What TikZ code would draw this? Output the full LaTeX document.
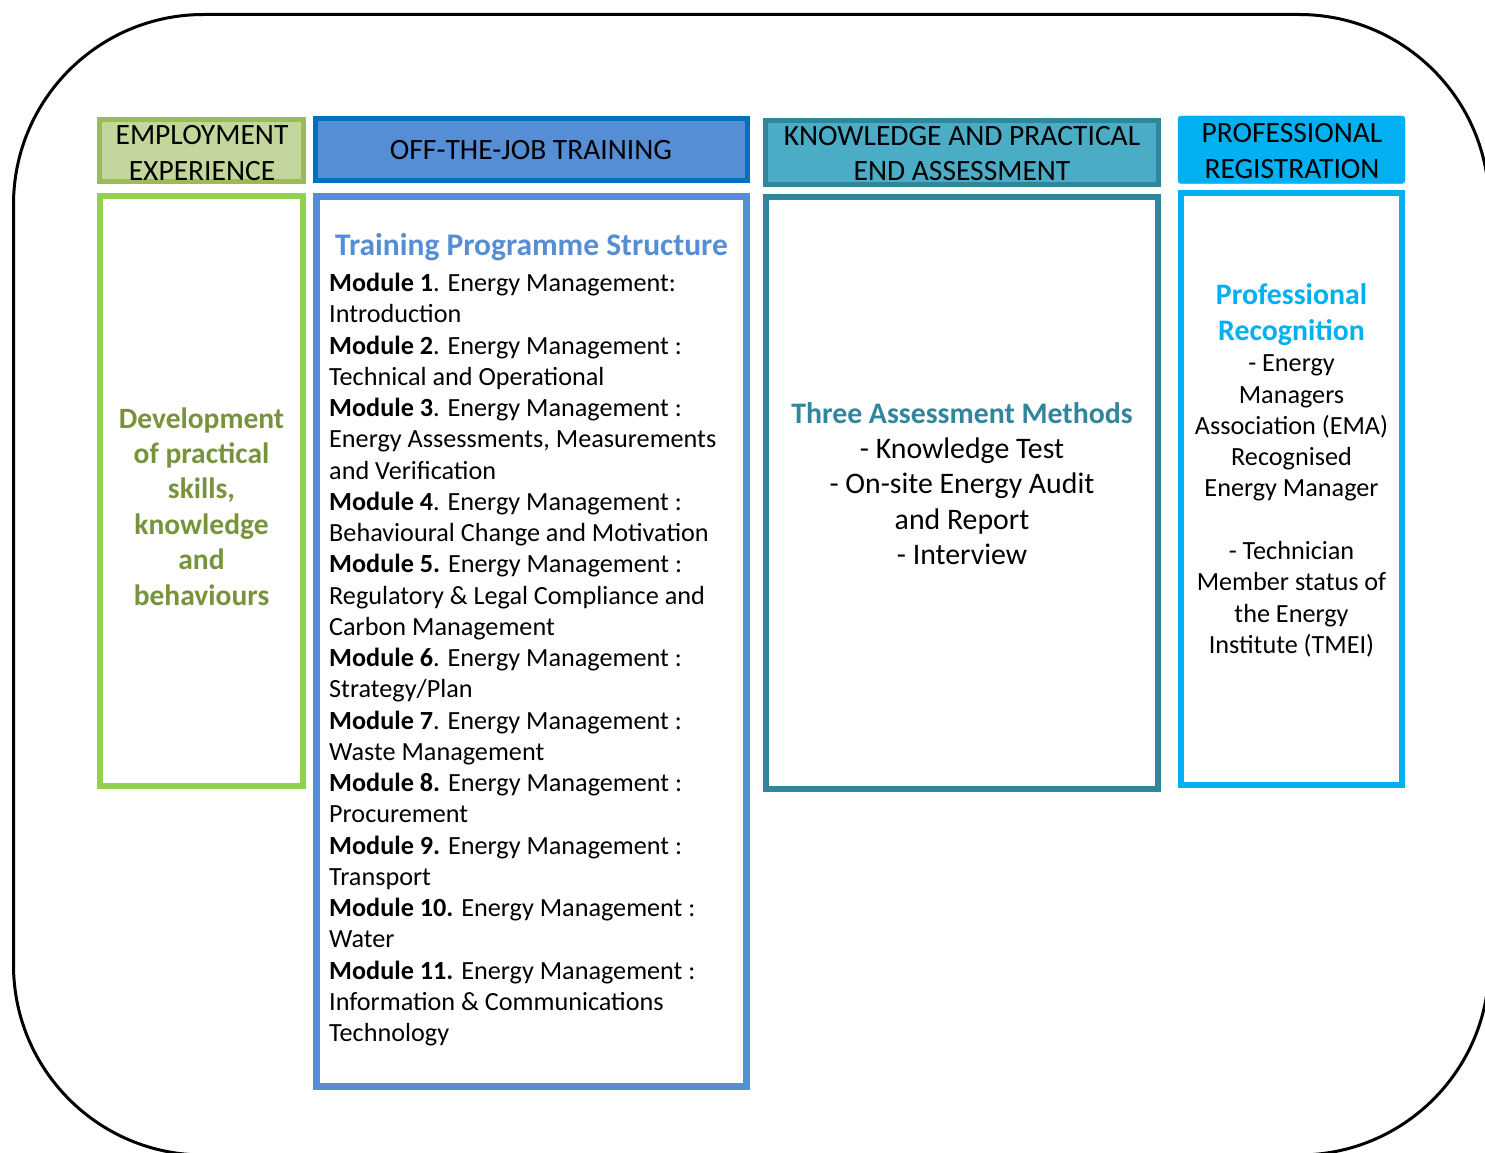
\documentclass[tikz,border=0pt]{standalone}
\usepackage{fontspec}
\setmainfont{Carlito}
\definecolor{oliveFill}{HTML}{C3D69B}
\definecolor{oliveLine}{HTML}{9BBB59}
\definecolor{greenLine}{HTML}{92D050}
\definecolor{oliveText}{HTML}{77933C}
\definecolor{blueFill}{HTML}{558ED5}
\definecolor{blueLine}{HTML}{0070C0}
\definecolor{tealFill}{HTML}{4BACC6}
\definecolor{tealLine}{HTML}{31859C}
\definecolor{cyanFill}{HTML}{00B0F0}
\begin{document}
\begin{tikzpicture}[x=1pt,y=-1pt,
  hdrtext/.style={inner sep=0pt, anchor=base, font=\fontsize{29.5}{35}\selectfont, text=black},
  bodytext/.style={inner sep=0pt, font=\fontsize{26.2}{31}\selectfont, text=black},
  boldhead/.style={inner sep=0pt, anchor=base, font=\bfseries\fontsize{29.5}{35}\selectfont}]
\useasboundingbox (0,0) rectangle (1485,1153);
\fill[white] (0,0) rectangle (1485,1153);
\clip (0,0) rectangle (1485,1153);
% outer frame
\draw[line width=3pt, rounded corners=190pt] (13.5,14.5) rectangle (1489,1155);

% ---------- column 1 ----------
\draw[line width=5pt, draw=oliveLine, fill=oliveFill] (99.5,119.5) rectangle (303.5,181.5);
\node[hdrtext] (h1a) at (202,144) {EMPLOYMENT};
\node[hdrtext] (h1b) at (202,180) {EXPERIENCE};
\draw[line width=6.5pt, draw=greenLine] (100.2,196.2) rectangle (302.8,785.8);
\foreach \t [count=\i] in {Development, of practical, {skills,}, knowledge, and, behaviours}
  \node[boldhead, text=oliveText] (d\i) at (201.5,{428+35.4*(\i-1)}) {\t};

% ---------- column 2 ----------
\draw[line width=5pt, draw=blueLine, fill=blueFill] (315.5,118.5) rectangle (747.5,180.5);
\node[hdrtext] (h2) at (531,159.5) {OFF-THE-JOB TRAINING};
\draw[line width=7pt, draw=blueFill] (316.5,196.5) rectangle (746.5,1086.5);
\node[boldhead, anchor=base west, text=blueFill, font=\bfseries\fontsize{31.5}{37}\selectfont] (tps) at (335,255) {Training Programme Structure};
\foreach \t [count=\i] in {
  {\textbf{Module 1}. Energy Management:},
  {Introduction},
  {\textbf{Module 2}. Energy Management :},
  {Technical and Operational},
  {\textbf{Module 3}. Energy Management :},
  {Energy Assessments, Measurements},
  {and Verification},
  {\textbf{Module 4}. Energy Management :},
  {Behavioural Change and Motivation},
  {\textbf{Module 5.} Energy Management :},
  {Regulatory \& Legal Compliance and},
  {Carbon Management},
  {\textbf{Module 6}. Energy Management :},
  {Strategy/Plan},
  {\textbf{Module 7}. Energy Management :},
  {Waste Management},
  {\textbf{Module 8.} Energy Management :},
  {Procurement},
  {\textbf{Module 9.} Energy Management :},
  {Transport},
  {\textbf{Module 10.} Energy Management :},
  {Water},
  {\textbf{Module 11.} Energy Management :},
  {Information \& Communications},
  {Technology}}
  \node[bodytext, anchor=base west] (m\i) at (329,{291.7+31.25*(\i-1)}) {\t};

% ---------- column 3 ----------
\draw[line width=5pt, draw=tealLine, fill=tealFill] (765.5,120.5) rectangle (1158.5,184.5);
\node[hdrtext] (h3a) at (962,145.5) {KNOWLEDGE AND PRACTICAL};
\node[hdrtext] (h3b) at (962,180.5) {END ASSESSMENT};
\draw[line width=6.5pt, draw=tealLine] (766.2,197.2) rectangle (1157.8,788.8);
\node[boldhead, text=tealLine, font=\bfseries\fontsize{29.8}{36}\selectfont] (tam) at (962,423.3) {Three Assessment Methods};
\foreach \t [count=\i] in {- Knowledge Test, - On-site Energy Audit, and Report, - Interview}
  \node[bodytext, anchor=base, font=\fontsize{29.8}{36}\selectfont] (a\i) at (962,{458.3+35.5*(\i-1)}) {\t};

% ---------- column 4 ----------
\draw[draw=cyanFill, fill=cyanFill, rounded corners=3pt] (1178,116) rectangle (1405,183.5);
\node[hdrtext] (h4a) at (1292,142.5) {PROFESSIONAL};
\node[hdrtext] (h4b) at (1292,178.5) {REGISTRATION};
\draw[line width=6pt, draw=cyanFill] (1181,193) rectangle (1402,785);
\node[boldhead, text=cyanFill, font=\bfseries\fontsize{29.8}{36}\selectfont] (pr1) at (1291.5,304.3) {Professional};
\node[boldhead, text=cyanFill, font=\bfseries\fontsize{29.8}{36}\selectfont] (pr2) at (1291.5,340) {Recognition};
\foreach \t/\k in {- Energy/0, Managers/1, Association (EMA)/2, Recognised/3, Energy Manager/4,
  - Technician/6, Member status of/7, the Energy/8, Institute (TMEI)/9}
  \node[bodytext, anchor=base] (p\k) at (1291.5,{371.7+31.3*\k}) {\t};
\end{tikzpicture}
\end{document}
